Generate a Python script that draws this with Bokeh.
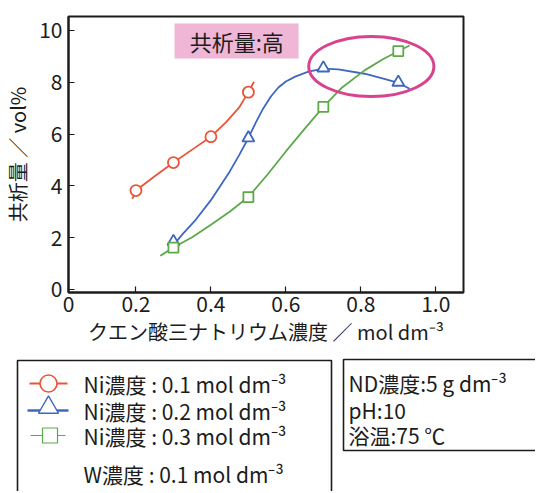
from bokeh.plotting import figure
from bokeh.models import Range1d, FixedTicker
from bokeh.layouts import column
from bokeh.core.properties import value
from bokeh.embed import file_html
from bokeh.resources import INLINE

# ---------------- data ----------------
conc = [0.3, 0.5, 0.7, 0.9]
ni01_x = [0.2, 0.3, 0.4, 0.5]
ni01_y = [3.82, 4.9, 5.9, 7.62]
ni02_y = [1.85, 5.85, 8.55, 8.0]
ni03_y = [1.62, 3.57, 7.05, 9.2]

# fitted curves as drawn in the picture (sampled by eye)
ni01_curve_x = [0.19, 0.2, 0.25, 0.3, 0.35, 0.4, 0.44, 0.475, 0.5, 0.515]
ni01_curve_y = [3.5, 3.82, 4.37, 4.9, 5.4, 5.9, 6.45, 7.02, 7.62, 8.02]
ni02_curve_x = [0.305, 0.325, 0.36, 0.4, 0.45, 0.475, 0.5, 0.52, 0.54, 0.56,
                0.58, 0.6, 0.625, 0.66, 0.7, 0.74, 0.81, 0.865, 0.9, 0.93]
ni02_curve_y = [1.8, 2.15, 2.7, 3.45, 4.55, 5.18, 5.85, 6.45, 7.0, 7.45,
                7.8, 8.03, 8.22, 8.41, 8.53, 8.5, 8.33, 8.12, 7.98, 7.75]
ni03_curve_x = [0.265, 0.3, 0.35, 0.4, 0.45, 0.5, 0.55, 0.6, 0.65, 0.7,
                0.75, 0.81, 0.86, 0.9, 0.93]
ni03_curve_y = [1.3, 1.62, 2.02, 2.5, 3.0, 3.57, 4.42, 5.33, 6.2, 7.05,
                7.8, 8.46, 8.9, 9.2, 9.42]

x_tick_values = [0.02, 0.2, 0.4, 0.6, 0.8, 1.0]
x_tick_labels = ["0", "0.2", "0.4", "0.6", "0.8", "1.0"]
y_tick_values = [0, 2, 4, 6, 8, 10]

legend_labels = ["Ni濃度 : 0.1 mol dm⁻³", "Ni濃度 : 0.2 mol dm⁻³",
                 "Ni濃度 : 0.3 mol dm⁻³", "W濃度 : 0.1 mol dm⁻³"]
info_labels = ["ND濃度:5 g dm⁻³", "pH:10", "浴温:75 ℃"]
highlight_label = "共析量:高"

# ---------------- styles ----------------
JP = "Noto Sans CJK JP"
RED = "#e8553a"
BLUE = "#3f67c0"
GREEN = "#5ea84c"
MAGENTA = "#d9428c"
PINK = "#efb6d6"
INK = "#1c1c1c"

W = 535
p = figure(width=W, height=348,
           x_range=Range1d(0.02, 1.074), y_range=Range1d(-0.116, 10.54),
           output_backend="svg", toolbar_location=None,
           min_border_left=65, min_border_right=W - 463,
           min_border_top=16, min_border_bottom=56)
p.grid.visible = False
p.outline_line_color = INK
p.outline_line_width = 2
p.background_fill_color = "white"
p.border_fill_color = "white"

for ax in (p.xaxis[0], p.yaxis[0]):
    ax.axis_line_color = INK
    ax.axis_line_width = 2
    ax.major_tick_in = 6
    ax.major_tick_out = 0
    ax.major_tick_line_color = INK
    ax.major_tick_line_width = 1.2
    ax.minor_tick_line_color = None
    ax.major_label_text_font = JP
    ax.major_label_text_font_size = "21px"
    ax.major_label_text_color = INK
    ax.axis_label_text_font = JP
    ax.axis_label_text_font_size = "20px"
    ax.axis_label_text_font_style = "normal"
    ax.axis_label_text_color = INK

p.xaxis.ticker = FixedTicker(ticks=x_tick_values)
p.xaxis.major_label_overrides = dict(zip(x_tick_values, x_tick_labels))
p.xaxis.major_label_standoff = 3
p.xaxis.axis_label_standoff = 2
p.xaxis.axis_label = "クエン酸三ナトリウム濃度 ／ mol dm⁻³"
p.yaxis.ticker = FixedTicker(ticks=y_tick_values)
p.yaxis.major_label_standoff = 6
p.yaxis.axis_label_standoff = 4
p.yaxis.axis_label = "共析量 ／ vol%"

# highlight label box
p.quad(left=0.303, right=0.634, bottom=8.92, top=10.27,
       fill_color=PINK, line_color=None)
p.text(x=[0.469], y=[9.6], text=[highlight_label], text_font=value(JP),
       text_font_size="22px", text_align="center", text_baseline="middle",
       text_color=INK)

# curves
p.line(ni01_curve_x, ni01_curve_y, line_color=RED, line_width=1.8)
p.line(ni02_curve_x, ni02_curve_y, line_color=BLUE, line_width=1.8)
p.line(ni03_curve_x, ni03_curve_y, line_color=GREEN, line_width=1.8)

# markers
p.scatter(ni01_x, ni01_y, marker="circle", size=11, fill_color="white",
          line_color=RED, line_width=1.8)
p.scatter(conc, ni02_y, marker="triangle", size=12, fill_color="white",
          line_color=BLUE, line_width=1.8)
p.scatter(conc, ni03_y, marker="square", size=10, fill_color="white",
          line_color=GREEN, line_width=1.8)

# highlight ellipse
p.ellipse(x=[0.828], y=[8.61], width=0.334, height=2.32,
          fill_color=None, line_color=MAGENTA, line_width=3)

# ---------------- lower panel (legend + conditions) ----------------
q = figure(width=W, height=143,
           x_range=Range1d(0, W), y_range=Range1d(491, 348),
           output_backend="svg", toolbar_location=None,
           x_axis_type=None, y_axis_type=None,
           min_border_left=0, min_border_right=0,
           min_border_top=0, min_border_bottom=0)
q.grid.visible = False
q.outline_line_color = None

for fig in (p, q):
    try:
        fig.frame_align = False
    except Exception:
        pass

q.quad(left=17, right=331, top=360, bottom=520, fill_color=None,
       line_color=INK, line_width=1.6)
q.quad(left=343, right=560, top=359, bottom=450, fill_color=None,
       line_color=INK, line_width=1.6)

rows_y = [383, 410, 435, 473]
q.segment(x0=[29, 27, 30], x1=[67, 68, 65], y0=rows_y[:3], y1=rows_y[:3],
          line_color=[RED, BLUE, GREEN], line_width=[1.8, 2.4, 1.2])
q.scatter([48], [rows_y[0]], marker="circle", size=17, fill_color="white",
          line_color=RED, line_width=1.6)
q.scatter([48], [rows_y[1] - 3], marker="triangle", size=20, fill_color="white",
          line_color=BLUE, line_width=1.4)
q.scatter([49.5], [rows_y[2]], marker="square", size=15, fill_color="white",
          line_color=GREEN, line_width=1.2)
q.text(x=[83] * 4, y=rows_y, text=legend_labels, text_font=value(JP),
       text_font_size="21px", text_baseline="middle", text_align="left",
       text_color=INK)

q.text(x=[348] * 3, y=[382, 409, 434], text=info_labels, text_font=value(JP),
       text_font_size="21px", text_baseline="middle", text_align="left",
       text_color=INK)

layout = column(p, q, spacing=0)
open("out.html", "w").write(file_html(layout, INLINE))
